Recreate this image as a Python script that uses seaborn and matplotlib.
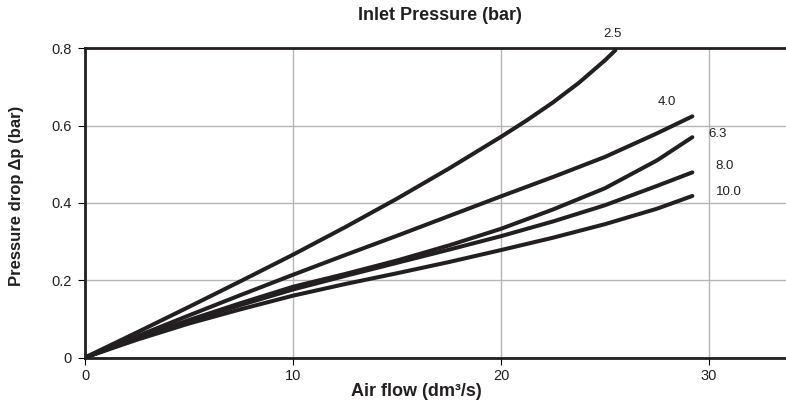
import matplotlib
matplotlib.use("Agg")
import matplotlib.pyplot as plt
import seaborn as sns
import pandas as pd

# ---- data ----
pressures = ["2.5", "4.0", "6.3", "8.0", "10.0"]
flow_25 = [0, 2.5, 5, 7.5, 10, 12.5, 15, 17.5, 20, 21.25, 22.5, 23.75, 25, 25.5]
dp_25 = [0, 0.065, 0.131, 0.198, 0.266, 0.337, 0.411, 0.489, 0.571, 0.614, 0.660,
         0.711, 0.769, 0.795]
flow_rest = [0, 2.5, 5, 7.5, 10, 12.5, 15, 17.5, 20, 22.5, 25, 27.5, 29.2]
dp_40 = [0, 0.055, 0.109, 0.162, 0.214, 0.265, 0.315, 0.366, 0.417, 0.467, 0.519, 0.58, 0.624]
dp_63 = [0, 0.05, 0.097, 0.141, 0.183, 0.216, 0.251, 0.29, 0.333, 0.383, 0.438, 0.51, 0.57]
dp_80 = [0, 0.049, 0.094, 0.136, 0.176, 0.211, 0.245, 0.279, 0.314, 0.352, 0.394, 0.444, 0.479]
dp_100 = [0, 0.046, 0.088, 0.125, 0.16, 0.19, 0.218, 0.247, 0.278, 0.31, 0.345, 0.385, 0.418]
x_ticks = [0, 10, 20, 30]
y_ticks = [0, 0.2, 0.4, 0.6, 0.8]
y_ticklabels = ["0", "0.2", "0.4", "0.6", "0.8"]

rows = []
for p, xs, ys in [("2.5", flow_25, dp_25), ("4.0", flow_rest, dp_40),
                  ("6.3", flow_rest, dp_63), ("8.0", flow_rest, dp_80),
                  ("10.0", flow_rest, dp_100)]:
    for xv, yv in zip(xs, ys):
        rows.append({"flow": xv, "dp": yv, "pressure": p})
df = pd.DataFrame(rows)

sns.set_theme(style="white")
plt.rcParams["font.family"] = ["Liberation Sans", "DejaVu Sans"]

dark = "#231f20"
fig = plt.figure(figsize=(7.86, 4.12), dpi=100)
ax = fig.add_axes([85 / 786, (412 - 357.5) / 412, (786 - 85) / 786, (357.5 - 48.3) / 412])

sns.lineplot(data=df, x="flow", y="dp", hue="pressure", hue_order=pressures,
             palette=[dark] * 5, legend=False, estimator=None, sort=False,
             linewidth=2.9, ax=ax, solid_capstyle="round",
             solid_joinstyle="round", zorder=3)

ax.set_xlim(0, (786 - 85) / 20.8)
ax.set_ylim(0, 0.8)
ax.set_xticks(x_ticks)
ax.set_xticklabels([str(t) for t in x_ticks])
ax.set_yticks(y_ticks)
ax.set_yticklabels(y_ticklabels)
ax.set_xlabel("")
ax.set_ylabel("")
ax.grid(True, color="#b5b5b5", linewidth=1.0)
ax.set_axisbelow(True)

for s in ["top", "left", "bottom"]:
    ax.spines[s].set_visible(True)
    ax.spines[s].set_color(dark)
    ax.spines[s].set_linewidth(2.0)
ax.spines["right"].set_visible(False)

ax.tick_params(axis="both", which="major", direction="out", length=5,
               width=0.8, color="black", labelsize=10.5, labelcolor=dark,
               bottom=True, left=True)
ax.tick_params(axis="y", pad=4.5)
ax.tick_params(axis="x", pad=3)

# series labels
label_pos = {"2.5": (25.34, 0.838, "center"), "4.0": (27.98, 0.661, "center"),
             "6.3": (29.95, 0.578, "left"), "8.0": (30.29, 0.495, "left"),
             "10.0": (30.34, 0.427, "left")}
for p in pressures:
    xv, yv, ha = label_pos[p]
    ax.text(xv, yv, p, ha=ha, va="center", fontsize=9.5, color=dark,
            clip_on=False)

fig.text(440 / 786, 1 - 15 / 412, "Inlet Pressure (bar)", ha="center",
         va="center", fontsize=13, fontweight="bold", color=dark)
fig.text(416 / 786, 1 - 391 / 412, "Air flow (dm³/s)", ha="center",
         va="center", fontsize=13, fontweight="bold", color=dark)
fig.text(17 / 786, 1 - 196 / 412, "Pressure drop Δp (bar)", ha="center",
         va="center", rotation=90, fontsize=12, fontweight="bold", color=dark)

fig.savefig("out.png", dpi=100)
